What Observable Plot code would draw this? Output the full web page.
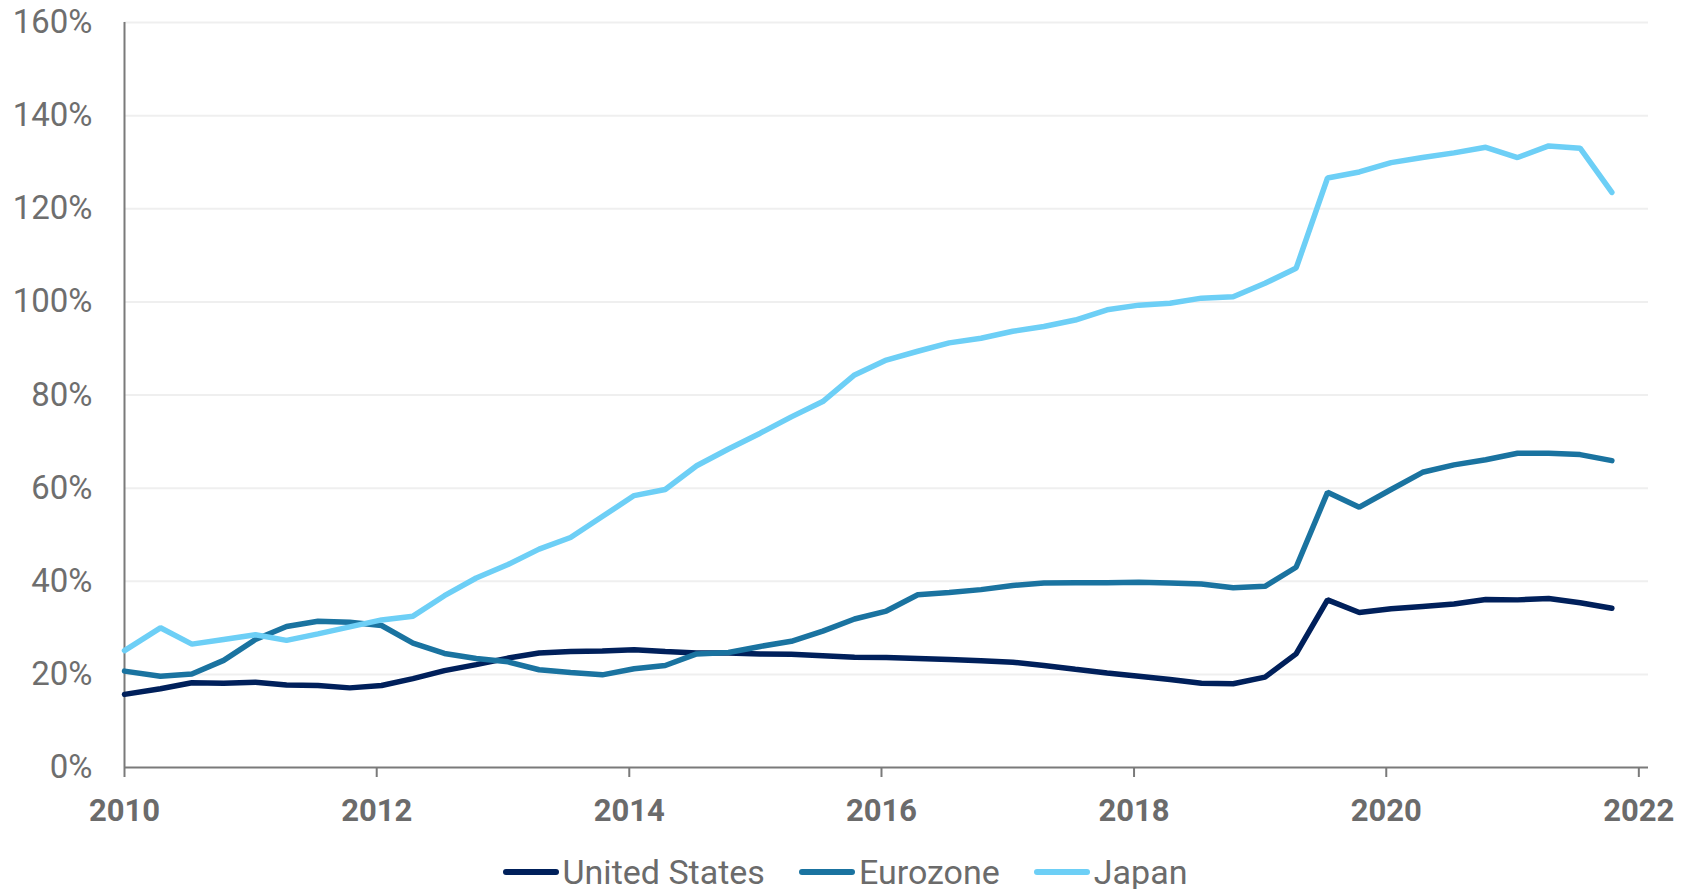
<!DOCTYPE html>
<html>
<head>
<meta charset="utf-8">
<script src="https://cdn.jsdelivr.net/npm/d3@7"></script>
<script src="https://cdn.jsdelivr.net/npm/@observablehq/plot@0.6"></script>
<style>
  html, body { margin: 0; padding: 0; background: #ffffff; }
  #wrap { width: 1698px; font-family: Roboto, "Noto Sans", sans-serif; }
  #legend { display: flex; justify-content: center; align-items: center; height: 40px; margin-top: 22px; padding-right: 8px; }
  .item { display: flex; align-items: center; margin: 0 17px; color: #6b6b6b; font-size: 34px; }
  .item svg { margin-right: 4px; }
</style>
</head>
<body>
<div id="wrap">
  <div id="chart"></div>
  <div id="legend"></div>
</div>
<script>
const dates = [
  "2010-01-01","2010-04-15","2010-07-15","2010-10-15",
  "2011-01-15","2011-04-15","2011-07-15","2011-10-15",
  "2012-01-15","2012-04-15","2012-07-15","2012-10-15",
  "2013-01-15","2013-04-15","2013-07-15","2013-10-15",
  "2014-01-15","2014-04-15","2014-07-15","2014-10-15",
  "2015-01-15","2015-04-15","2015-07-15","2015-10-15",
  "2016-01-15","2016-04-15","2016-07-15","2016-10-15",
  "2017-01-15","2017-04-15","2017-07-15","2017-10-15",
  "2018-01-15","2018-04-15","2018-07-15","2018-10-15",
  "2019-01-15","2019-04-15","2019-07-15","2019-10-15",
  "2020-01-15","2020-04-15","2020-07-15","2020-10-15",
  "2021-01-15","2021-04-15","2021-07-15","2021-10-15"
];

const usValues = [
  15.7,16.9,18.2,18.1, 18.3,17.7,17.6,17.1, 17.6,19.1,20.8,22.1,
  23.5,24.6,24.9,25.0, 25.3,24.9,24.6,24.6, 24.4,24.3,24.0,23.7,
  23.6,23.4,23.2,22.9, 22.6,21.9,21.1,20.3, 19.6,18.9,18.1,18.0,
  19.4,24.4,36.0,33.3, 34.1,34.6,35.1,36.1, 36.0,36.3,35.4,34.2
];
const euroValues = [
  20.7,19.6,20.1,23.0, 27.5,30.3,31.4,31.2, 30.5,26.7,24.5,23.4,
  22.7,21.0,20.4,19.9, 21.2,21.9,24.4,24.7, 26.0,27.1,29.3,31.9,
  33.6,37.1,37.6,38.2, 39.1,39.6,39.7,39.7, 39.8,39.6,39.4,38.6,
  38.9,43.0,59.1,55.9, 59.7,63.4,65.0,66.1, 67.5,67.5,67.2,65.9
];
const japanValues = [
  25.1,30.0,26.5,27.5, 28.5,27.3,28.7,30.2, 31.7,32.5,36.9,40.7,
  43.6,46.9,49.4,53.9, 58.4,59.7,64.8,68.4, 71.8,75.3,78.6,84.3,
  87.5,89.4,91.2,92.2, 93.7,94.7,96.1,98.3, 99.3,99.7,100.8,101.1,
  104.0,107.2,126.6,127.9, 129.9,131.0,132.0,133.2, 131.0,133.5,133.0,123.5
];

const seriesNames = ["United States", "Eurozone", "Japan"];
const seriesColors = ["#00205b", "#1a73a0", "#6dcff6"];
const yTicks = [0, 20, 40, 60, 80, 100, 120, 140, 160];
const xTickYears = [2010, 2012, 2014, 2016, 2018, 2020, 2022];

const allValues = [usValues, euroValues, japanValues];
const rows = [];
seriesNames.forEach((name, s) => {
  dates.forEach((d, i) => rows.push({series: name, date: new Date(d), value: allValues[s][i]}));
});

const xStart = new Date(Date.UTC(2010, 0, 1));
const xEnd = new Date(Date.UTC(2022, 0, 29));
const xTicks = xTickYears.map(y => new Date(Date.UTC(y, 0, 1)));

const chart = Plot.plot({
  width: 1698,
  height: 830,
  marginLeft: 124,
  marginRight: 50,
  marginTop: 22,
  marginBottom: 63,
  style: {fontFamily: "Roboto, 'Noto Sans', sans-serif", fontSize: "31px", background: "#ffffff"},
  x: {type: "utc", domain: [xStart, xEnd]},
  y: {domain: [0, 160]},
  color: {domain: seriesNames, range: seriesColors},
  marks: [
    Plot.gridY(yTicks.filter(t => t > 0), {stroke: "#efefef", strokeOpacity: 1, strokeWidth: 2}),
    Plot.axisY(yTicks, {tickSize: 0, tickPadding: 32, tickFormat: d => d + "%", fill: "#6e6e6e", fontSize: 33, label: null}),
    Plot.axisX(xTicks, {tickSize: 10, tickPadding: 21, tickFormat: d => String(d.getUTCFullYear()), fill: "#6b6b6b", fontWeight: "bold", stroke: "#7a7a7a", strokeWidth: 2, label: null}),
    Plot.ruleY([0], {stroke: "#7a7a7a", strokeWidth: 2}),
    Plot.ruleX([xStart], {y1: 0, y2: 160, stroke: "#7a7a7a", strokeWidth: 2}),
    Plot.line(rows, {x: "date", y: "value", z: "series", stroke: "series", strokeWidth: 5.5, strokeLinejoin: "miter", strokeLinecap: "round"})
  ]
});
document.getElementById("chart").appendChild(chart);

const legend = document.getElementById("legend");
seriesNames.forEach((name, i) => {
  const item = document.createElement("div");
  item.className = "item";
  item.innerHTML = `<svg width="56" height="10"><line x1="3" y1="5" x2="53" y2="5" stroke="${seriesColors[i]}" stroke-width="6" stroke-linecap="round"/></svg><span>${name}</span>`;
  legend.appendChild(item);
});
</script>
</body>
</html>
